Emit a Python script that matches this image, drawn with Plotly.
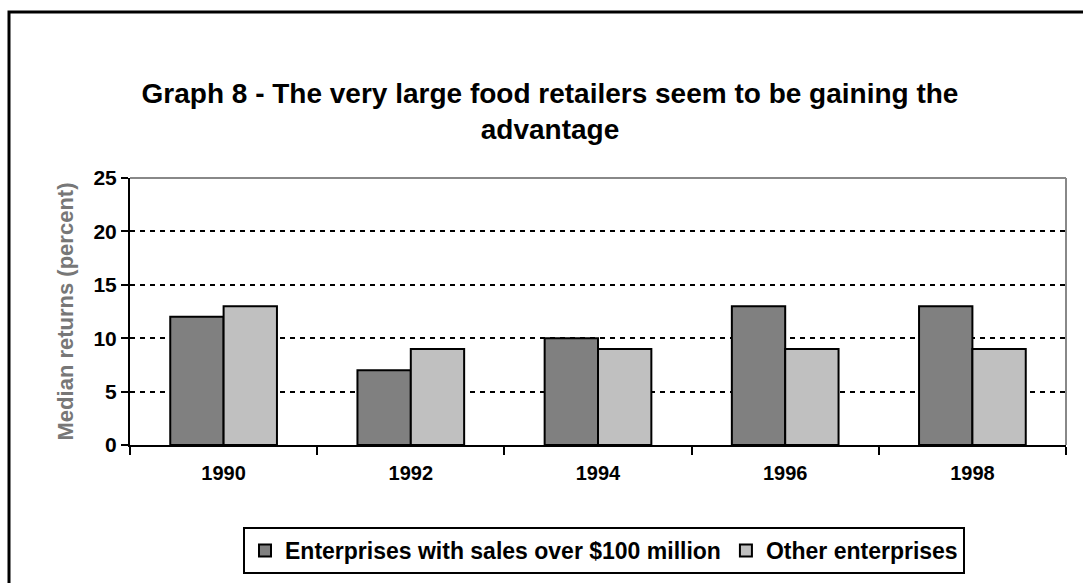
import plotly.graph_objects as go

years = ["1990", "1992", "1994", "1996", "1998"]
large = [12, 7, 10, 13, 13]
other = [13, 9, 9, 9, 9]
series_names = ["Enterprises with sales over $100 million", "Other enterprises"]
title_text = "Graph 8 - The very large food retailers seem to be gaining the<br>advantage"
y_title = "Median returns (percent)"

W, H = 1083, 583
ml, mr, mt, mb = 130, 17, 178, 138
pw, ph = W - ml - mr, H - mt - mb

def px_x(x):
    return (x - ml) / pw

def px_y(y):
    return (H - mb - y) / ph

fig = go.Figure()
fig.add_trace(go.Bar(x=years, y=large, name=series_names[0],
                     marker=dict(color="#808080", line=dict(color="black", width=2))))
fig.add_trace(go.Bar(x=years, y=other, name=series_names[1],
                     marker=dict(color="#c0c0c0", line=dict(color="black", width=2))))

fig.update_layout(
    width=W, height=H,
    margin=dict(l=ml, r=mr, t=mt, b=mb, autoexpand=False),
    paper_bgcolor="white", plot_bgcolor="white",
    barmode="group", bargap=0.43, bargroupgap=0,
    font=dict(family="Liberation Sans, Arial, sans-serif", color="black"),
    title=dict(text=title_text, xref="container", x=550 / W, xanchor="center",
               yref="container", y=1 - 103 / H, yanchor="middle",
               font=dict(size=28, family="Liberation Sans, Arial, sans-serif", color="black", weight="bold")),
    showlegend=True,
    legend=dict(orientation="h", x=px_x(604), xanchor="center", y=px_y(527), yanchor="top",
                bordercolor="black", borderwidth=2, bgcolor="white",
                font=dict(size=23, weight="bold"), itemwidth=30, traceorder="normal"),
    xaxis=dict(showline=True, linecolor="black", linewidth=2, ticks="outside", ticklen=8,
               tickwidth=2, tickcolor="black", tickson="boundaries", showgrid=False,
               ticklabelstandoff=9, automargin=False,
               tickfont=dict(size=20, weight="bold")),
    yaxis=dict(range=[0, 25], dtick=5, showline=True, linecolor="black", linewidth=2,
               ticks="outside", ticklen=7, tickwidth=2, tickcolor="black",
               showgrid=True, gridcolor="black", gridwidth=2, griddash="5px,5px",
               zeroline=False, automargin=False, tickfont=dict(size=21, weight="bold"),
               title=dict(text=y_title, font=dict(size=22, color="#777777", weight="bold"), standoff=14)),
    shapes=[
        dict(type="line", xref="paper", yref="paper", x0=0, x1=1, y0=1, y1=1,
             line=dict(color="#888888", width=2), layer="below"),
        dict(type="line", xref="paper", yref="paper", x0=1, x1=1, y0=0, y1=1,
             line=dict(color="#888888", width=2), layer="below"),
        dict(type="rect", xref="paper", yref="paper", x0=px_x(9), x1=px_x(1120),
             y0=px_y(640), y1=px_y(12), line=dict(color="black", width=3),
             fillcolor="rgba(0,0,0,0)"),
    ],
)

fig.write_html("out.html")
